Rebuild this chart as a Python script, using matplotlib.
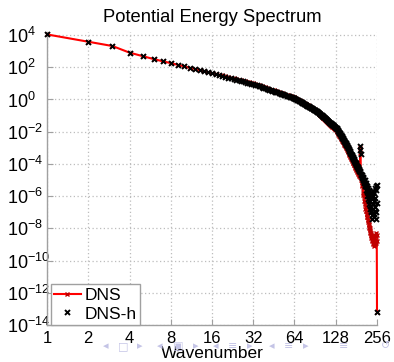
import numpy as np
import matplotlib
matplotlib.use('Agg')
import matplotlib.pyplot as plt
from matplotlib.ticker import FixedLocator, FixedFormatter, NullLocator

plt.rcParams['font.family'] = ['Liberation Sans', 'DejaVu Sans']
plt.rcParams['mathtext.fontset'] = 'custom'
plt.rcParams['mathtext.rm'] = 'Liberation Sans'
plt.rcParams['mathtext.default'] = 'regular'

# ---------------- data ----------------
wavenumber = np.arange(1, 257)   # k = 1 .. 256

# log10 of the spectrum, one value per wavenumber (16 per row)
dns_log10 = [
    4.04, 3.59, 3.32, 2.91, 2.69, 2.51, 2.37, 2.26, 2.15, 2.06, 1.96, 1.90, 1.82, 1.75, 1.68, 1.62,
    1.60, 1.55, 1.50, 1.45, 1.40, 1.36, 1.31, 1.27, 1.23, 1.20, 1.16, 1.13, 1.09, 1.06, 1.03, 1.00,
    0.96, 0.92, 0.89, 0.85, 0.81, 0.78, 0.75, 0.71, 0.68, 0.65, 0.62, 0.59, 0.56, 0.53, 0.51, 0.48,
    0.45, 0.43, 0.40, 0.38, 0.35, 0.33, 0.30, 0.28, 0.26, 0.24, 0.21, 0.19, 0.17, 0.15, 0.13, 0.11,
    0.07, 0.03, 0.00, -0.03, -0.06, -0.09, -0.12, -0.15, -0.18, -0.21, -0.24, -0.26, -0.29, -0.32, -0.35, -0.37,
    -0.41, -0.43, -0.46, -0.48, -0.51, -0.53, -0.56, -0.58, -0.62, -0.64, -0.66, -0.69, -0.72, -0.75, -0.79, -0.82,
    -0.90, -0.94, -0.98, -1.01, -1.05, -1.09, -1.13, -1.16, -1.20, -1.23, -1.27, -1.30, -1.33, -1.36, -1.39, -1.41,
    -1.46, -1.49, -1.52, -1.55, -1.57, -1.60, -1.63, -1.65, -1.68, -1.71, -1.73, -1.76, -1.79, -1.81, -1.84, -1.86,
    -1.92, -1.94, -2.00, -2.04, -2.10, -2.15, -2.19, -2.25, -2.29, -2.34, -2.38, -2.44, -2.48, -2.53, -2.57, -2.62,
    -2.67, -2.71, -2.76, -2.80, -2.84, -2.90, -2.94, -2.98, -3.03, -3.07, -3.12, -3.17, -3.22, -3.27, -3.32, -3.38,
    -3.43, -3.47, -3.53, -3.57, -3.62, -3.68, -3.72, -3.78, -3.82, -3.88, -3.92, -3.96, -4.01, -4.05, -4.09, -4.15,
    -4.19, -4.23, -4.27, -4.32, -4.36, -4.40, -4.44, -4.48, -4.52, -4.56, -4.60, -4.64, -4.68, -4.72, -4.76, -4.80,
    -3.00, -3.30, -4.80, -4.90, -5.00, -5.10, -5.30, -5.40, -5.30, -5.50, -5.80, -5.90, -5.80, -6.00, -6.30, -6.40,
    -6.30, -6.50, -6.80, -6.90, -6.70, -6.90, -7.20, -7.30, -7.10, -7.30, -7.50, -7.60, -7.50, -7.70, -7.90, -8.00,
    -7.80, -8.00, -8.20, -8.30, -8.10, -8.30, -8.50, -8.60, -8.40, -8.50, -8.70, -8.80, -8.50, -8.70, -8.90, -9.00,
    -8.70, -8.80, -9.00, -9.10, -8.60, -8.70, -8.90, -9.00, -8.40, -8.50, -8.80, -8.90, -8.30, -8.40, -8.80, -13.20,
]

dnsh_log10 = [
    4.04, 3.59, 3.32, 2.91, 2.69, 2.51, 2.37, 2.26, 2.15, 2.06, 1.96, 1.90, 1.82, 1.75, 1.68, 1.62,
    1.56, 1.51, 1.46, 1.41, 1.36, 1.32, 1.27, 1.23, 1.19, 1.16, 1.12, 1.09, 1.05, 1.02, 0.99, 0.96,
    0.92, 0.88, 0.85, 0.81, 0.77, 0.74, 0.71, 0.67, 0.64, 0.61, 0.58, 0.55, 0.52, 0.49, 0.47, 0.44,
    0.41, 0.39, 0.36, 0.34, 0.31, 0.29, 0.26, 0.24, 0.22, 0.20, 0.17, 0.15, 0.13, 0.11, 0.09, 0.07,
    0.04, 0.00, -0.03, -0.06, -0.09, -0.12, -0.15, -0.18, -0.21, -0.24, -0.27, -0.29, -0.32, -0.35, -0.38, -0.40,
    -0.43, -0.45, -0.48, -0.50, -0.53, -0.55, -0.58, -0.60, -0.63, -0.65, -0.67, -0.70, -0.72, -0.75, -0.79, -0.82,
    -0.85, -0.89, -0.92, -0.95, -0.98, -1.02, -1.05, -1.08, -1.11, -1.14, -1.17, -1.20, -1.23, -1.26, -1.29, -1.31,
    -1.34, -1.37, -1.40, -1.43, -1.45, -1.48, -1.51, -1.53, -1.56, -1.59, -1.61, -1.64, -1.67, -1.69, -1.72, -1.74,
    -1.77, -1.79, -1.84, -1.88, -1.93, -1.98, -2.02, -2.07, -2.11, -2.16, -2.20, -2.25, -2.29, -2.34, -2.38, -2.42,
    -2.47, -2.51, -2.55, -2.59, -2.63, -2.68, -2.72, -2.76, -2.80, -2.84, -2.89, -2.94, -2.99, -3.03, -3.08, -3.13,
    -3.18, -3.22, -3.27, -3.31, -3.36, -3.41, -3.45, -3.50, -3.54, -3.59, -3.63, -3.67, -3.72, -3.76, -3.80, -3.85,
    -3.89, -3.93, -3.97, -4.02, -4.06, -4.10, -4.14, -4.18, -4.22, -4.26, -4.30, -4.34, -4.38, -4.42, -4.46, -4.50,
    -2.90, -3.15, -3.40, -4.60, -4.70, -4.80, -4.70, -4.90, -5.00, -5.00, -4.80, -4.90, -5.20, -5.10, -5.00, -5.20,
    -5.40, -5.00, -5.30, -5.30, -5.60, -5.20, -5.70, -5.50, -6.00, -5.40, -6.20, -5.90, -5.50, -5.60, -6.50, -6.30,
    -5.70, -5.80, -6.80, -6.60, -5.90, -6.00, -7.00, -6.90, -6.10, -6.20, -7.40, -7.20, -5.90, -6.00, -6.50, -6.80,
    -5.70, -5.80, -7.10, -7.30, -6.30, -6.10, -6.90, -6.70, -5.50, -5.60, -7.40, -7.00, -5.40, -5.30, -6.40, -13.20,
]

series_labels = ['DNS', 'DNS-h']
title_text = 'Potential Energy Spectrum'
xlabel_text = 'Wavenumber'
xtick_values = [1, 2, 4, 8, 16, 32, 64, 128, 256]
xtick_labels = ['1', '2', '4', '8', '16', '32', '64', '128', '256']
ytick_exponents = [4, 2, 0, -2, -4, -6, -8, -10, -12, -14]

# ---------------- figure ----------------
W, H = 394, 362
fig = plt.figure(figsize=(W / 100, H / 100), dpi=100)
ax = fig.add_axes([47 / W, 1 - 325 / H, 330 / W, 293 / H])

k = wavenumber.astype(float)
e_dns = 10.0 ** np.array(dns_log10)
e_dnsh = 10.0 ** np.array(dnsh_log10)

ax.plot(k, e_dns, color='#ff0000', lw=1.5, marker='x', ms=3, mew=1.0,
        mec='#c00000', label=series_labels[0], zorder=3, clip_on=False)
ax.plot(k, e_dnsh, ls='none', marker='x', ms=3.6, mew=1.4, color='black',
        label=series_labels[1], zorder=4, clip_on=False)

ax.set_xscale('log', base=2)
ax.set_yscale('log')
ax.set_xlim(1, 256)
ax.set_ylim(1e-14, 10 ** 4.19)

ax.xaxis.set_major_locator(FixedLocator(xtick_values))
ax.xaxis.set_major_formatter(FixedFormatter(xtick_labels))
ax.xaxis.set_minor_locator(NullLocator())
yt = [10.0 ** e for e in ytick_exponents]
ax.yaxis.set_major_locator(FixedLocator(yt))
ax.yaxis.set_major_formatter(FixedFormatter(['$10^{%d}$' % e for e in ytick_exponents]))
ax.yaxis.set_minor_locator(NullLocator())

for s in ['top', 'right']:
    ax.spines[s].set_visible(False)
for s in ['left', 'bottom']:
    ax.spines[s].set_color('#a0a0a0')
    ax.spines[s].set_linewidth(1.0)

ax.grid(True, which='major', linestyle=(0, (1, 2)), color='#bdbdbd', lw=0.9)
ax.set_axisbelow(True)

ax.tick_params(axis='x', direction='in', length=4, color='#a0a0a0', labelsize=12, pad=4)
ax.tick_params(axis='y', direction='in', length=4, color='#a0a0a0', labelsize=13, pad=29)
for lab in ax.get_yticklabels():
    lab.set_horizontalalignment('left')

ax.set_title(title_text, fontsize=13.2, pad=7)
ax.set_xlabel(xlabel_text, fontsize=12.5, labelpad=0)

leg = ax.legend(loc='lower left', bbox_to_anchor=(4 / 330, 0.0), borderaxespad=0,
                frameon=True, fancybox=False, edgecolor='#a0a0a0', framealpha=1,
                handlelength=1.5, handletextpad=0.25, borderpad=0.2, labelspacing=0.2,
                fontsize=12.5, numpoints=1)
leg.get_frame().set_linewidth(1.0)

# faint beamer navigation symbols
nav = [('◂', 106), ('□', 123), ('▸', 140), ('◂', 160), ('▣', 178), ('▸', 196),
       ('◂', 216), ('≡', 233), ('▸', 250), ('◂', 272), ('≡', 289), ('▸', 306),
       ('≡', 344), ('↺', 386)]
for sym, xp in nav:
    fig.text(xp / W, 1 - 346 / H, sym, fontsize=8, color='#c4c4e6',
             ha='center', va='center', family=['DejaVu Sans'])

fig.savefig('out.png', dpi=100)
